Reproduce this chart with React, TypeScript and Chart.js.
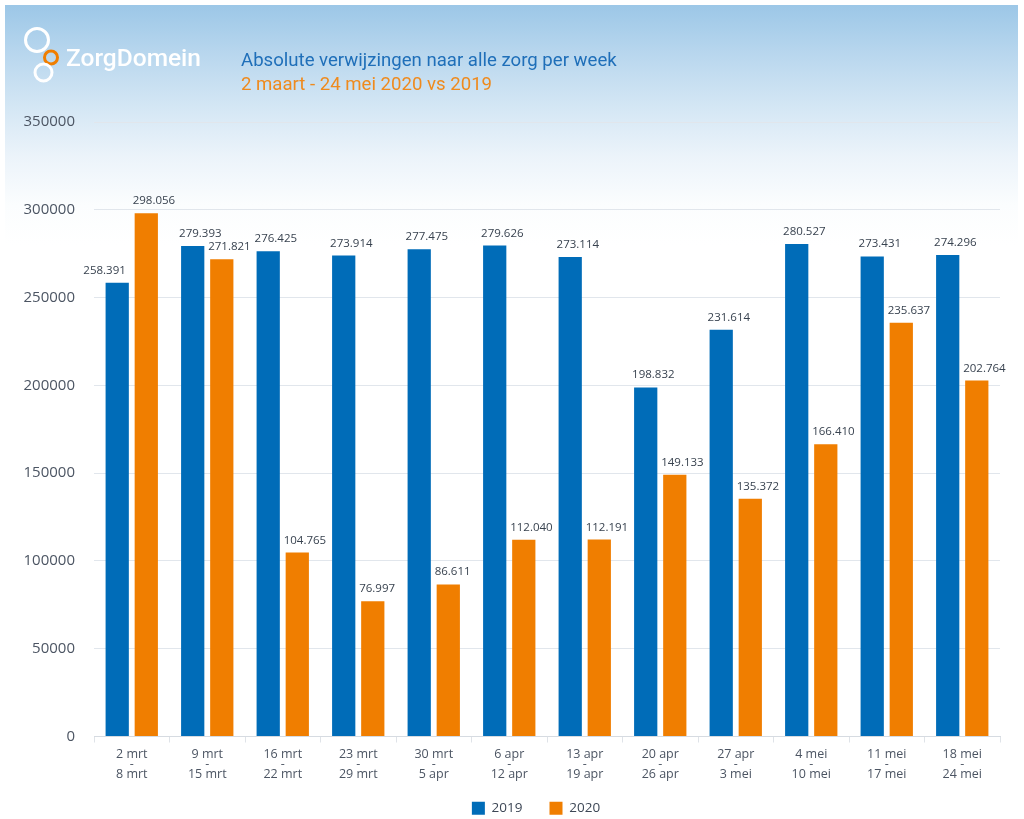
import React, { useEffect, useRef } from "react";
import { Chart, registerables } from "chart.js";

Chart.register(...registerables);

const weekStarts = ["2 mrt", "9 mrt", "16 mrt", "23 mrt", "30 mrt", "6 apr", "13 apr", "20 apr", "27 apr", "4 mei", "11 mei", "18 mei"];
const weekEnds = ["8 mrt", "15 mrt", "22 mrt", "29 mrt", "5 apr", "12 apr", "19 apr", "26 apr", "3 mei", "10 mei", "17 mei", "24 mei"];
const values2019 = [258391, 279393, 276425, 273914, 277475, 279626, 273114, 198832, 231614, 280527, 273431, 274296];
const values2020 = [298056, 271821, 104765, 76997, 86611, 112040, 112191, 149133, 135372, 166410, 235637, 202764];
const seriesNames = ["2019", "2020"];
const yTicks = [0, 50000, 100000, 150000, 200000, 250000, 300000, 350000];

const titleText = "Absolute verwijzingen naar alle zorg per week";
const subtitleText = "2 maart - 24 mei 2020 vs 2019";
const brandText = "ZorgDomein";

const BLUE = "#006cb8";
const ORANGE = "#f07e00";
const FONT = "'Open Sans', 'DejaVu Sans', sans-serif";

function fmt(v: number): string {
  const s = String(Math.round(v));
  return s.replace(/\B(?=(\d{3})+(?!\d))/g, ".");
}

const dataLabelPlugin = {
  id: "dataLabels",
  afterLayout(chart: any) {
    const x = chart.scales.x;
    if (x) x.bottom = 795;
    const lg = chart.legend;
    if (lg) {
      lg.top += 6;
      lg.bottom += 6;
      lg.left -= 11;
      lg.right -= 11;
    }
  },
  afterDatasetsDraw(chart: any) {
    const ctx = chart.ctx;
    ctx.save();
    ctx.font = `11.5px ${FONT}`;
    ctx.fillStyle = "#38424f";
    ctx.textBaseline = "alphabetic";
    const m1 = chart.getDatasetMeta(1);
    chart.data.datasets.forEach((ds: any, di: number) => {
      const meta = chart.getDatasetMeta(di);
      meta.data.forEach((bar: any, i: number) => {
        const v = ds.data[i];
        const txt = fmt(v);
        const w = ctx.measureText(txt).width;
        const y = bar.y - 9;
        let left = bar.x - bar.width / 2 - 2;
        if (di === 0) {
          const other = m1.data[i];
          const otherLeft = other.x - other.width / 2;
          // avoid overlapping the neighbouring (taller) bar
          if (left + w > otherLeft && other.y < y) {
            left = bar.x + bar.width / 2 - 3 - w;
          }
        }
        ctx.textAlign = "left";
        ctx.fillText(txt, left, y);
      });
    });
    ctx.restore();
  },
};

export default function App() {
  const ref = useRef<HTMLCanvasElement | null>(null);

  useEffect(() => {
    if (!ref.current) return;
    const chart = new Chart(ref.current, {
      type: "bar",
      data: {
        labels: weekStarts.map((s, i) => [s, "-", weekEnds[i]]),
        datasets: [
          {
            label: seriesNames[0],
            data: values2019,
            backgroundColor: BLUE,
            borderWidth: 0,
            barPercentage: 0.8,
            categoryPercentage: 0.77,
          },
          {
            label: seriesNames[1],
            data: values2020,
            backgroundColor: ORANGE,
            borderWidth: 0,
            barPercentage: 0.8,
            categoryPercentage: 0.77,
          },
        ],
      },
      options: {
        responsive: false,
        animation: false,
        devicePixelRatio: 1,
        layout: { padding: { top: 122, left: 20, right: 24, bottom: 0 } },
        plugins: {
          legend: {
            position: "bottom",
            fullSize: false,
            labels: {
              boxWidth: 13,
              boxHeight: 13,
              padding: 27,
              color: "#3d4756",
              font: { family: FONT, size: 13.5 },
            },
          },
          tooltip: { enabled: false },
        },
        scales: {
          x: {
            afterFit: (scale: any) => {
              scale.height = 32;
            },
            grid: {
              display: true,
              drawOnChartArea: false,
              drawTicks: true,
              tickLength: 6,
              color: "#dfe3e8",
            },
            border: { display: true, color: "#d6dbe1" },
            ticks: {
              color: "#4c5563",
              padding: 7,
              maxRotation: 0,
              autoSkip: false,
              font: { family: FONT, size: 12.5, lineHeight: "10px" },
            },
          },
          y: {
            min: 0,
            max: yTicks[yTicks.length - 1],
            afterFit: (scale: any) => {
              scale.width = 74;
            },
            afterBuildTicks: (scale: any) => {
              scale.ticks = yTicks.map((v) => ({ value: v }));
            },
            grid: { color: "#e1e6ec", drawTicks: false },
            border: { display: false },
            ticks: {
              color: "#4c5563",
              padding: 19,
              font: { family: FONT, size: 15 },
              callback: (v: any) => String(v),
            },
          },
        },
      },
      plugins: [dataLabelPlugin],
    });
    return () => chart.destroy();
  }, []);

  return (
    <div
      style={{
        position: "fixed",
        top: 0,
        left: 0,
        width: 1024,
        height: 819,
        overflow: "hidden",
        background: "#ffffff",
      }}
    >
      <div
        style={{
          position: "absolute",
          top: 5,
          left: 5,
          width: 1013,
          height: 300,
          background:
            "linear-gradient(to bottom, #9cc7e7 0px, #b9d7ee 50px, #d3e6f4 100px, #ebf3fa 150px, #fbfdfe 200px, #ffffff 240px)",
        }}
      />
      <div style={{ position: "absolute", top: 0, left: 0, width: 1024, height: 819 }}>
        <canvas ref={ref} width={1024} height={819} style={{ width: 1024, height: 819, display: "block" }} />
      </div>
      <svg width={80} height={90} style={{ position: "absolute", left: 0, top: 0 }}>
        <circle cx={37} cy={40} r={11.5} fill="none" stroke="#ffffff" strokeWidth={3} />
        <circle cx={51} cy={57.5} r={6.5} fill="none" stroke="#f07e00" strokeWidth={3} />
        <circle cx={43.5} cy={72.5} r={8.5} fill="none" stroke="#ffffff" strokeWidth={3} />
      </svg>
      <div
        style={{
          position: "absolute",
          left: 66,
          top: 43,
          fontFamily: "Roboto, sans-serif",
          fontWeight: 500,
          fontSize: 24.5,
          color: "#ffffff",
          lineHeight: "30px",
          whiteSpace: "nowrap",
        }}
      >
        {brandText}
      </div>
      <div
        style={{
          position: "absolute",
          left: 241,
          top: 48,
          fontFamily: "Roboto, sans-serif",
          fontSize: 18.6,
          color: "#1f6fb9",
          lineHeight: "24px",
          whiteSpace: "nowrap",
        }}
      >
        {titleText}
      </div>
      <div
        style={{
          position: "absolute",
          left: 241,
          top: 72,
          fontFamily: "Roboto, sans-serif",
          fontSize: 18.6,
          color: "#ef8a1d",
          lineHeight: "24px",
          whiteSpace: "nowrap",
        }}
      >
        {subtitleText}
      </div>
    </div>
  );
}
